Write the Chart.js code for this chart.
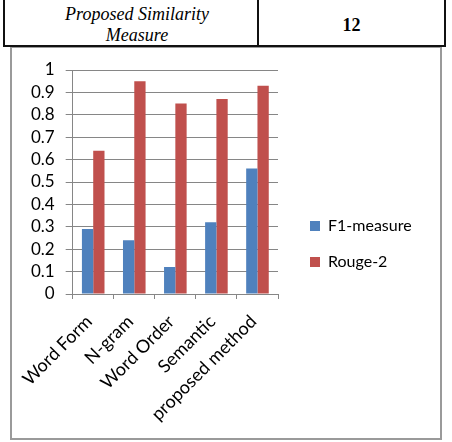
<!DOCTYPE html>
<html>
<head>
<meta charset="utf-8">
<script src="https://cdn.jsdelivr.net/npm/chart.js@4.4.0/dist/chart.umd.min.js"></script>
<style>
  html, body { margin: 0; padding: 0; background: #fff; }
  body { width: 452px; height: 442px; position: relative; overflow: hidden; }
  .ln { position: absolute; background: #111; }
  .hdr { position: absolute; font-family: "Liberation Serif", "Times New Roman", serif; color: #000; text-align: center; }
  #box { position: absolute; left: 10px; top: 46px; width: 432px; height: 394px; box-sizing: border-box; border: 2px solid #9a9a9a; }
  #wrap { position: absolute; left: 12px; top: 48px; width: 428px; height: 390px; }
</style>
</head>
<body>
<div id="box"></div>
<div class="ln" style="left:3px;top:0;width:2px;height:47px"></div>
<div class="ln" style="left:257px;top:0;width:2px;height:46px"></div>
<div class="ln" style="left:444px;top:0;width:2px;height:47px"></div>
<div class="ln" style="left:3px;top:45px;width:443px;height:2px"></div>
<div class="hdr" style="left:5px;width:264px;top:4px;font-size:18px;font-style:italic;line-height:21px">Proposed Similarity<br>Measure</div>
<div class="hdr" style="left:259px;width:185px;top:15px;font-size:18px;font-weight:bold;line-height:21px">12</div>
<div id="wrap"><canvas id="c" width="428" height="390"></canvas></div>
<script>
const categories = ["Word Form", "N-gram", "Word Order", "Semantic", "proposed method"];
const f1Measure = [0.29, 0.24, 0.12, 0.32, 0.56];
const rouge2 = [0.64, 0.95, 0.85, 0.87, 0.93];
const yTicks = [0, 0.1, 0.2, 0.3, 0.4, 0.5, 0.6, 0.7, 0.8, 0.9, 1];

const FONT = "Lato, 'Open Sans', sans-serif";
const legendBox = {
  id: 'legendBox',
  afterInit(chart) {
    const lg = chart.legend;
    if (!lg) return;
    const orig = lg.fit;
    lg.fit = function () { orig.call(this); this.width = 162; };
  },
  afterLayout(chart) {
    const lg = chart.legend;
    if (lg) { lg.left += 12; lg.right += 12; lg.top -= 10; lg.bottom -= 10; }
  }
};

new Chart(document.getElementById('c'), {
  type: 'bar',
  data: {
    labels: categories,
    datasets: [
      { label: 'F1-measure', data: f1Measure, backgroundColor: '#4F81BD', borderWidth: 0 },
      { label: 'Rouge-2', data: rouge2, backgroundColor: '#C0504D', borderWidth: 0 }
    ]
  },
  options: {
    responsive: false,
    animation: false,
    devicePixelRatio: 1,
    layout: { padding: { top: 22, bottom: 0, left: 0, right: 0 } },
    datasets: { bar: { categoryPercentage: 0.55, barPercentage: 1 } },
    plugins: {
      tooltip: { enabled: false },
      legend: {
        position: 'right',
        align: 'center',
        labels: { boxWidth: 10, boxHeight: 10, padding: 20, color: '#000', font: { family: FONT, size: 16 } }
      }
    },
    scales: {
      x: {
        grid: { display: true, drawOnChartArea: false, drawTicks: true, tickLength: 5, color: '#868686' },
        border: { color: '#868686', width: 1 },
        ticks: { minRotation: 45, maxRotation: 45, autoSkip: false, labelOffset: -4, color: '#000', font: { family: FONT, size: 18 }, padding: 12 },
        afterFit(s) { s.height = 144; }
      },
      y: {
        min: 0, max: 1,
        grid: { color: '#868686', tickLength: 7 },
        border: { color: '#868686', width: 1 },
        afterBuildTicks(s) { s.ticks = yTicks.map(v => ({ value: v })); },
        ticks: { autoSkip: false, color: '#000', font: { family: FONT, size: 17 }, padding: 11, callback: v => String(v) },
        afterFit(s) { s.width = 58; }
      }
    }
  },
  plugins: [legendBox]
});
</script>
</body>
</html>
